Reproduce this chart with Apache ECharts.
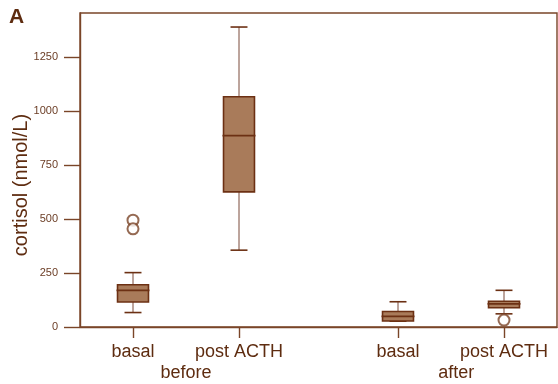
<!DOCTYPE html>
<html>
<head>
<meta charset="utf-8">
<script src="https://cdn.jsdelivr.net/npm/echarts@6/dist/echarts.min.js"></script>
<style>
  html, body { margin: 0; padding: 0; background: #fff; }
  #main { width: 558px; height: 384px; }
</style>
</head>
<body>
<div id="main"></div>
<script>
// 箱线图数据 (cortisol, nmol/L)
var positions = [0, 1, 2.5, 3.5];
var catLabels = ['basal', 'post ACTH', 'basal', 'post ACTH'];
var groupPositions = [0.5, 3.05];
var groupLabels = ['before', 'after'];
var whiskerLow = [67, 356, 27, 61];
var q1 = [116, 626, 28, 89];
var median = [170, 887, 49, 107];
var q3 = [196, 1067, 72, 119];
var whiskerHigh = [252, 1390, 117, 170];
var outliers = [[0, 495], [0, 455], [3.5, 32]];
var yTicks = [0, 250, 500, 750, 1000, 1250];

var font = 'Liberation Sans, Arial, sans-serif';
var lineColor = '#7a4528';
var textColor = '#5e2c10';
var boxFill = '#a97b5a';
var boxBorder = '#6c3013';

var boxRows = positions.map(function (p, i) {
    return [p, whiskerLow[i], q1[i], median[i], q3[i], whiskerHigh[i]];
});

function labelFor(v, pos, labels) {
    for (var i = 0; i < pos.length; i++) {
        if (Math.abs(pos[i] - v) < 1e-6) return labels[i];
    }
    return '';
}

function renderBox(params, api) {
    var x = api.value(0);
    var unit = api.size([1, 0])[0];
    var halfBox = unit * 0.146;
    var halfCap = unit * 0.08;
    var pLow = api.coord([x, api.value(1)]);
    var pQ1 = api.coord([x, api.value(2)]);
    var pMed = api.coord([x, api.value(3)]);
    var pQ3 = api.coord([x, api.value(4)]);
    var pHigh = api.coord([x, api.value(5)]);
    var cx = pQ1[0];
    var stem = { stroke: '#7b4a3a', lineWidth: 1 };
    var cap = { stroke: boxBorder, lineWidth: 1.6 };
    return {
        type: 'group',
        children: [
            { type: 'line', shape: { x1: cx, y1: pQ3[1], x2: cx, y2: pHigh[1] }, style: stem },
            { type: 'line', shape: { x1: cx, y1: pQ1[1], x2: cx, y2: pLow[1] }, style: stem },
            { type: 'line', shape: { x1: cx - halfCap, y1: pHigh[1], x2: cx + halfCap, y2: pHigh[1] }, style: cap },
            { type: 'line', shape: { x1: cx - halfCap, y1: pLow[1], x2: cx + halfCap, y2: pLow[1] }, style: cap },
            {
                type: 'rect',
                shape: { x: cx - halfBox, y: pQ3[1], width: halfBox * 2, height: pQ1[1] - pQ3[1] },
                style: { fill: boxFill, stroke: boxBorder, lineWidth: 1.6 }
            },
            { type: 'line', shape: { x1: cx - halfBox - 1, y1: pMed[1], x2: cx + halfBox + 1, y2: pMed[1] }, style: { stroke: boxBorder, lineWidth: 1.8 } }
        ]
    };
}

var myChart = echarts.init(document.getElementById('main'));
myChart.setOption({
    animation: false,
    textStyle: { fontFamily: font },
    title: {
        text: 'A', left: 9, top: 7, padding: 0,
        textStyle: { fontSize: 21, fontWeight: 'bold', color: textColor, fontFamily: font }
    },
    grid: {
        left: 80, right: 1, top: 13, bottom: 57,
        show: true, borderColor: lineColor, borderWidth: 1.4
    },
    xAxis: [
        {
            type: 'value', min: -0.5, max: 4,
            axisLine: { show: true, onZero: false, lineStyle: { color: lineColor, width: 1.4 } },
            axisTick: { show: true, length: 11, customValues: positions, lineStyle: { color: lineColor, width: 1.4 } },
            axisLabel: {
                customValues: positions, margin: 16, fontSize: 18, color: textColor,
                formatter: function (v) { return labelFor(v, positions, catLabels); }
            },
            splitLine: { show: false }
        },
        {
            type: 'value', min: -0.5, max: 4, position: 'bottom',
            axisLine: { show: false, onZero: false }, axisTick: { show: false },
            axisLabel: {
                customValues: groupPositions, margin: 37, fontSize: 18, color: textColor,
                formatter: function (v) { return labelFor(v, groupPositions, groupLabels); }
            },
            splitLine: { show: false }
        }
    ],
    yAxis: {
        type: 'value', min: 0, max: 1455,
        axisLine: { show: true, onZero: false, lineStyle: { color: lineColor, width: 1.4 } },
        axisTick: { show: true, length: 16, customValues: yTicks, lineStyle: { color: lineColor, width: 1.4 } },
        axisLabel: {
            customValues: yTicks, margin: 22, fontSize: 11, color: '#6b3d25',
            formatter: function (v) { return String(v); }
        },
        splitLine: { show: false }
    },
    graphic: [{
        type: 'text', x: 21, y: 185, rotation: Math.PI / 2,
        style: { text: 'cortisol (nmol/L)', fontSize: 20, fontFamily: font, fill: textColor, align: 'center', verticalAlign: 'middle' }
    }],
    series: [
        { type: 'custom', renderItem: renderBox, data: boxRows, encode: { x: 0, y: [1, 2, 3, 4, 5] }, z: 3 },
        {
            type: 'scatter', data: outliers, symbol: 'emptyCircle', symbolSize: 11,
            itemStyle: { color: lineColor, borderWidth: 1 }, z: 4
        }
    ]
});
</script>
</body>
</html>
